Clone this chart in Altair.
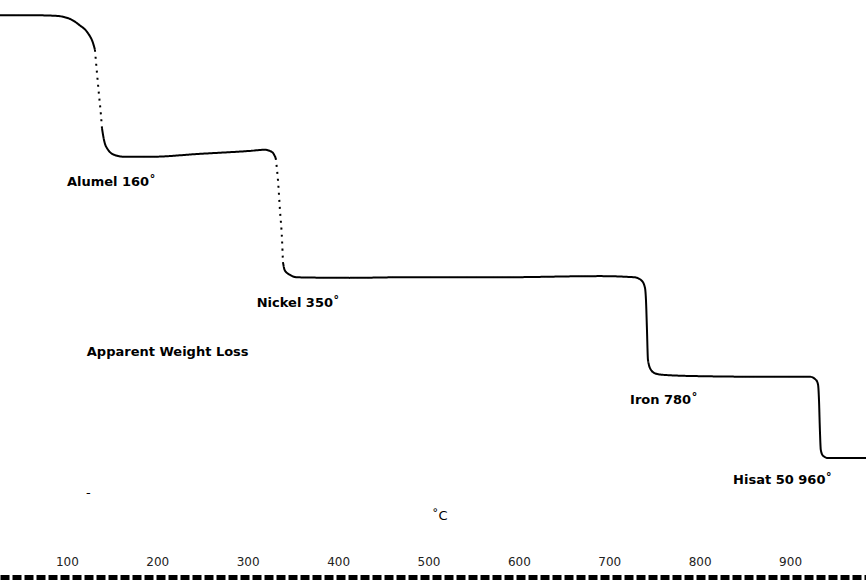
import altair as alt
import pandas as pd

# Thermogravimetric trace: temperature (°C) vs apparent weight (arbitrary units)
seg_ids = ["A"] * 8 + ["B"] * 5 + ["C"] * 11 + ["D"] * 5 + ["E"] * 28
seg_style = {"A": "solid", "B": "dotted", "C": "solid", "D": "dotted", "E": "solid"}
temps = [26, 59, 87, 103, 114, 123, 129, 131,
         131, 133, 135.5, 137.7, 138.8,
         138.8, 141, 145.5, 153, 164, 192, 247, 302, 319, 327, 331,
         331, 333.5, 335.7, 338, 339,
         339, 341, 347, 354.5, 413, 468, 579, 690, 728, 736, 739.5, 740.6, 741.7,
         742.8, 746, 752, 762, 800, 867, 922, 929, 931, 932, 933, 934, 936.4, 942, 984]
weights = [97.4, 97.4, 97.3, 96.8, 95.7, 94.4, 92.6, 91.5,
           91.5, 88.0, 83.8, 80.3, 78.1,
           78.1, 76.1, 74.4, 73.5, 73.2, 73.2, 73.7, 74.2, 74.4, 74.0, 73.0,
           73.0, 69.2, 64.1, 59.0, 55.2,
           55.2, 53.8, 53.0, 52.6, 52.5, 52.6, 52.6, 52.8, 52.6, 52.0, 50.8, 48.7, 43.6,
           38.5, 36.8, 36.1, 35.9, 35.7, 35.6, 35.6, 35.0, 34.2, 31.6, 26.5, 23.1, 22.1, 21.7, 21.7]

label_texts = ["Alumel 160˚", "Nickel 350˚", "Apparent Weight Loss", "Iron 780˚", "Hisat 50 960˚"]
label_temps = [100, 310, 122, 723, 837]
label_weights = [68.9, 48.2, 39.8, 31.6, 17.9]

unit_texts = ["˚C", "-"]
unit_temps = [504, 121]
unit_weights = [11.8, 15.7]

tick_values = [100, 200, 300, 400, 500, 600, 700, 800, 900]

curve = pd.DataFrame({
    "temp": temps,
    "weight": weights,
    "seg": seg_ids,
    "style": [seg_style[s] for s in seg_ids],
})
labels = pd.DataFrame({"text": label_texts, "temp": label_temps, "weight": label_weights})
units = pd.DataFrame({"text": unit_texts, "temp": unit_temps, "weight": unit_weights})

W, H = 866, 585
xscale = alt.Scale(domain=[26, 984], nice=False, zero=False)
yscale = alt.Scale(domain=[0, 100], nice=False, zero=False)

line = alt.Chart(curve).mark_line(color="black", strokeWidth=2, interpolate="monotone").encode(
    x=alt.X("temp:Q", scale=xscale,
            axis=alt.Axis(orient="top", offset=-577, values=tick_values, title=None,
                          ticks=False, labelPadding=9, labelFontSize=12,
                          labelFont="DejaVu Sans", labelColor="#222",
                          domainColor="black", domainWidth=5, domainDash=[9, 3], grid=False)),
    y=alt.Y("weight:Q", scale=yscale, axis=None),
    detail="seg:N",
    strokeDash=alt.StrokeDash("style:N", scale=alt.Scale(domain=["solid", "dotted"],
                                                          range=[[1, 0], [2, 5]]), legend=None),
)

text = alt.Chart(labels).mark_text(align="left", baseline="middle", font="DejaVu Sans",
                                    fontWeight="bold", fontSize=13, color="black").encode(
    x=alt.X("temp:Q", scale=xscale),
    y=alt.Y("weight:Q", scale=yscale),
    text="text:N",
)

unit_text = alt.Chart(units).mark_text(align="left", baseline="middle", font="DejaVu Sans",
                                        fontSize=13, color="black").encode(
    x=alt.X("temp:Q", scale=xscale),
    y=alt.Y("weight:Q", scale=yscale),
    text="text:N",
)

chart = alt.layer(line, text, unit_text).properties(
    width=W, height=H, autosize=alt.AutoSizeParams(type="none"), padding=0,
    background="white",
).configure_view(stroke=None)

chart.save("out.html", embed_options={"renderer": "svg", "actions": False})
